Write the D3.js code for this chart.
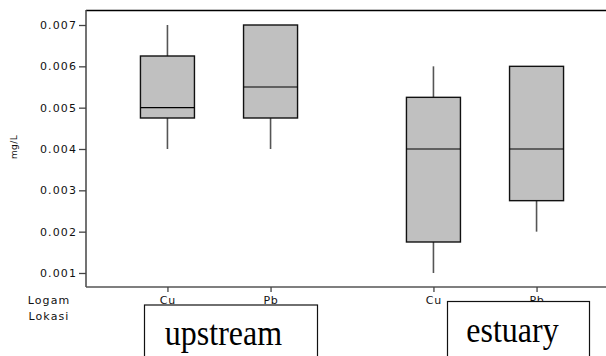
<!DOCTYPE html>
<html>
<head>
<meta charset="utf-8">
<script src="https://cdn.jsdelivr.net/npm/d3@7"></script>
<style>
  html, body { margin: 0; padding: 0; background: #fff; }
  svg { display: block; }
  .tick text { font-family: "DejaVu Sans", Verdana, sans-serif; }
</style>
</head>
<body>
<div id="chart"></div>
<script>
// Heavy-metal concentrations (mg/L) by metal and sampling location
const locations = ["upstream", "estuary"];
const metals = ["Cu", "Pb"];
const yTicks = [0.001, 0.002, 0.003, 0.004, 0.005, 0.006, 0.007];

// five-number summaries, one entry per location × metal
const boxLocation = ["upstream", "upstream", "estuary", "estuary"];
const boxMetal    = ["Cu", "Pb", "Cu", "Pb"];
const boxMin      = [0.004,   0.004,   0.001,   0.002];
const boxQ1       = [0.00475, 0.00475, 0.00175, 0.00275];
const boxMedian   = [0.005,   0.0055,  0.004,   0.004];
const boxQ3       = [0.00625, 0.007,   0.00525, 0.006];
const boxMax      = [0.007,   0.007,   0.006,   0.006];

const boxes = boxLocation.map((loc, i) => ({
  location: loc, metal: boxMetal[i],
  min: boxMin[i], q1: boxQ1[i], median: boxMedian[i], q3: boxQ3[i], max: boxMax[i]
}));

const W = 606, H = 356;
const plot = { left: 86, top: 10, bottom: 287 };

const svg = d3.select("#chart").append("svg")
  .attr("width", W).attr("height", H);

// scales
const y = d3.scaleLinear()
  .domain([0.000661, 0.007363])
  .range([plot.bottom, plot.top]);

const xLoc = d3.scaleBand()
  .domain(locations)
  .range([plot.left, 618])
  .padding(0);

const xMetal = d3.scalePoint()
  .domain(metals)
  .range([0, xLoc.bandwidth()])
  .padding(0.79);

const xPos = d => xLoc(d.location) + xMetal(d.metal);
const boxW = 54;

// plot frame: top border, left and bottom axes
svg.append("line")
  .attr("x1", plot.left).attr("x2", W + 2)
  .attr("y1", plot.top + 0.5).attr("y2", plot.top + 0.5)
  .attr("stroke", "#000").attr("stroke-width", 1.3);

// y axis
const yAxis = svg.append("g")
  .attr("transform", `translate(${plot.left},0)`)
  .call(d3.axisLeft(y).tickValues(yTicks).tickFormat(d3.format(".3f"))
    .tickSize(7).tickPadding(2).tickSizeOuter(0));
yAxis.select(".domain").attr("stroke", "#444").attr("stroke-width", 1.5)
  .attr("d", `M0,${plot.top}V${plot.bottom}`);
yAxis.selectAll(".tick line").attr("stroke", "#444").attr("stroke-width", 1.3);
yAxis.selectAll(".tick text")
  .attr("font-size", 11).attr("letter-spacing", "1.1px").attr("fill", "#111");

// x axis: one tick per metal in each location
const xAxisG = svg.append("g");
xAxisG.append("line")
  .attr("x1", plot.left).attr("x2", W + 2)
  .attr("y1", plot.bottom).attr("y2", plot.bottom)
  .attr("stroke", "#555").attr("stroke-width", 1.5);
locations.forEach(loc => {
  const g = xAxisG.append("g")
    .attr("transform", `translate(${xLoc(loc)},${plot.bottom})`)
    .call(d3.axisBottom(xMetal).tickSize(5).tickPadding(3).tickSizeOuter(0));
  g.select(".domain").remove();
  g.selectAll(".tick line").attr("stroke", "#444").attr("stroke-width", 1.3);
  g.selectAll(".tick text")
    .attr("font-size", 11).attr("letter-spacing", "0.8px").attr("fill", "#111")
    .attr("dy", "0.85em");
});

// y axis title
svg.append("text")
  .attr("transform", `translate(17,147) rotate(-90)`)
  .attr("text-anchor", "middle")
  .attr("font-family", "DejaVu Sans, Verdana, sans-serif")
  .attr("font-size", 9).attr("letter-spacing", "0.4px")
  .attr("fill", "#111")
  .text("mg/L");

// row captions under the x axis
const captions = [["Logam", 304], ["Lokasi", 320]];
svg.selectAll("text.caption").data(captions).join("text")
  .attr("class", "caption")
  .attr("x", 49).attr("y", d => d[1])
  .attr("text-anchor", "middle")
  .attr("font-family", "DejaVu Sans, Verdana, sans-serif")
  .attr("font-size", 11).attr("letter-spacing", "1.1px").attr("fill", "#111")
  .text(d => d[0]);

// box plots
const bg = svg.append("g").selectAll("g.box").data(boxes).join("g").attr("class", "box");

// whiskers
bg.append("line")
  .attr("x1", xPos).attr("x2", xPos)
  .attr("y1", d => y(d.q3)).attr("y2", d => y(d.max))
  .attr("stroke", "#555").attr("stroke-width", 1.6);
bg.append("line")
  .attr("x1", xPos).attr("x2", xPos)
  .attr("y1", d => y(d.q1)).attr("y2", d => y(d.min))
  .attr("stroke", "#555").attr("stroke-width", 1.6);

// interquartile boxes
bg.append("rect")
  .attr("x", d => xPos(d) - boxW / 2)
  .attr("y", d => y(d.q3))
  .attr("width", boxW)
  .attr("height", d => y(d.q1) - y(d.q3))
  .attr("fill", "#c0c0c0")
  .attr("stroke", "#111").attr("stroke-width", 1.4);

// medians
bg.append("line")
  .attr("x1", d => xPos(d) - boxW / 2).attr("x2", d => xPos(d) + boxW / 2)
  .attr("y1", d => y(d.median)).attr("y2", d => y(d.median))
  .attr("stroke", "#000").attr("stroke-width", 1.1);

// location labels in framed boxes
const locLabels = [
  { text: "upstream", x0: 144.5, x1: 317.5, top: 305, tx: 223.5, ty: 345 },
  { text: "estuary",  x0: 447.5, x1: 589.5, top: 301.5, tx: 512.5, ty: 342 }
];
const lg = svg.append("g").selectAll("g").data(locLabels).join("g");
lg.append("rect")
  .attr("x", d => d.x0).attr("y", d => d.top)
  .attr("width", d => d.x1 - d.x0).attr("height", 80)
  .attr("fill", "#fff").attr("stroke", "#111").attr("stroke-width", 1.2);
lg.append("text")
  .attr("transform", d => `translate(${d.tx},${d.ty}) scale(1,1.12)`)
  .attr("text-anchor", "middle")
  .attr("font-family", "Liberation Serif, Times New Roman, serif")
  .attr("font-size", 32).attr("fill", "#000")
  .text(d => d.text);
</script>
</body>
</html>
